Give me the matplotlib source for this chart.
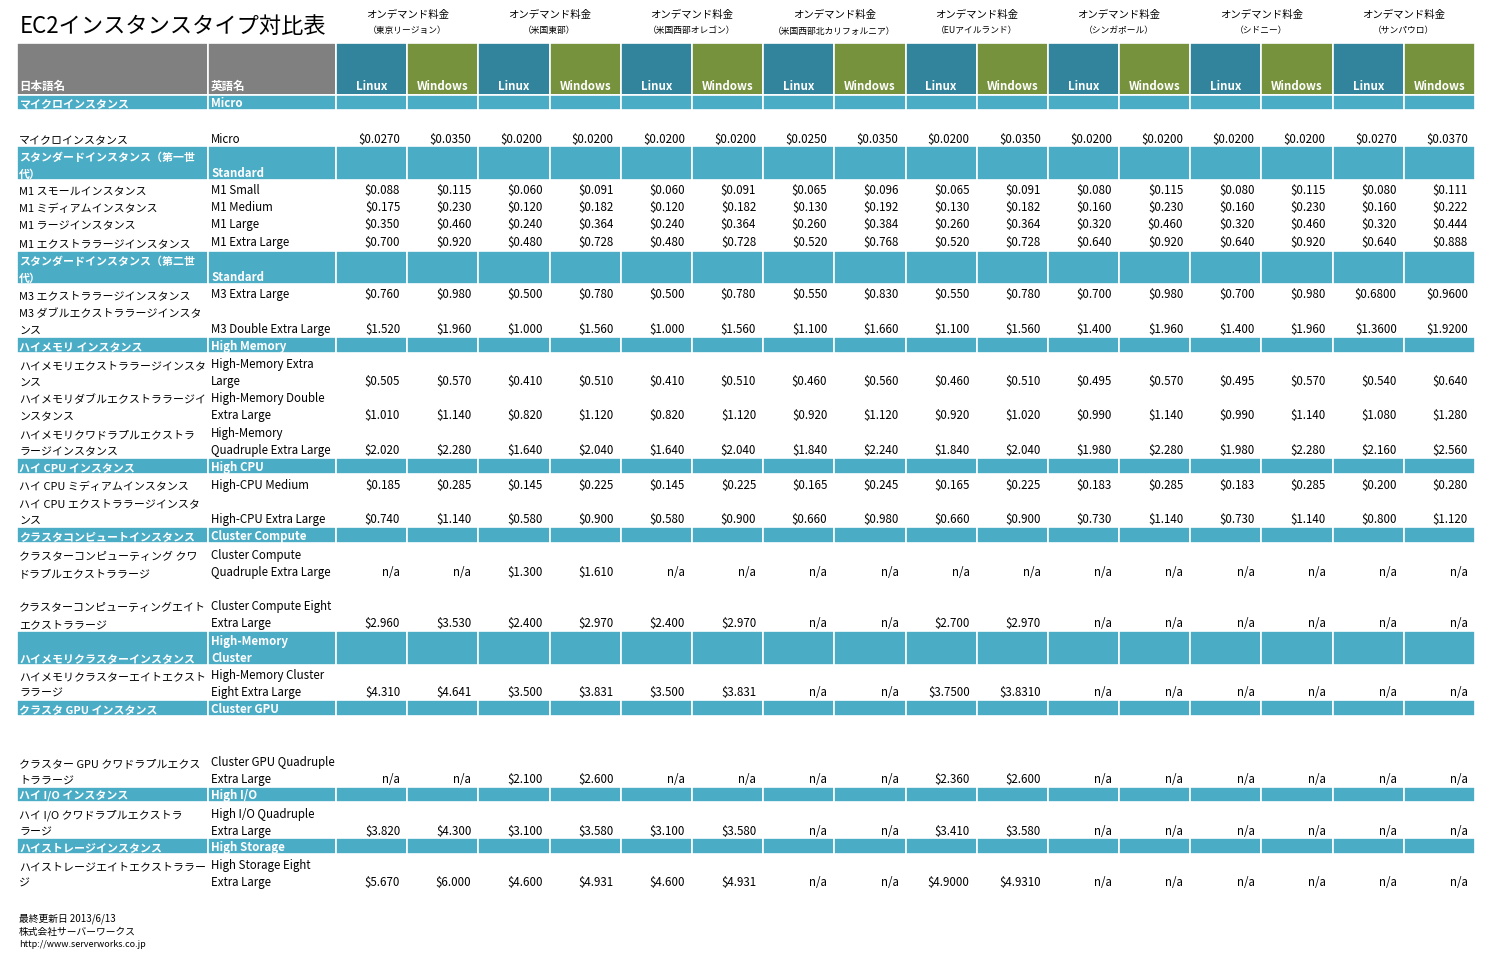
import matplotlib.pyplot as plt
from matplotlib.patches import Rectangle

plt.rcParams['font.family'] = ['Noto Sans CJK JP', 'DejaVu Sans']

regions = ["（東京リージョン）", "（米国東部）", "（米国西部オレゴン）", "（米国西部北カリフォルニア）",
           "（EUアイルランド）", "（シンガポール）", "（シドニー）", "（サンパウロ）"]

NA = ["n/a"] * 6
# (kind, top, bottom, jp label, en label, prices)
rows = [
    ("sec", 96, 111, "マイクロインスタンス", "Micro", None),
    ("dat", 111, 147, "マイクロインスタンス", "Micro",
     "$0.0270 $0.0350 $0.0200 $0.0200 $0.0200 $0.0200 $0.0250 $0.0350 $0.0200 $0.0350 $0.0200 $0.0200 $0.0200 $0.0200 $0.0270 $0.0370".split()),
    ("sec", 147, 181, "スタンダードインスタンス（第一世\n代）", "Standard", None),
    ("dat", 181, 198, "M1 スモールインスタンス", "M1 Small",
     "$0.088 $0.115 $0.060 $0.091 $0.060 $0.091 $0.065 $0.096 $0.065 $0.091 $0.080 $0.115 $0.080 $0.115 $0.080 $0.111".split()),
    ("dat", 198, 215, "M1 ミディアムインスタンス", "M1 Medium",
     "$0.175 $0.230 $0.120 $0.182 $0.120 $0.182 $0.130 $0.192 $0.130 $0.182 $0.160 $0.230 $0.160 $0.230 $0.160 $0.222".split()),
    ("dat", 215, 232, "M1 ラージインスタンス", "M1 Large",
     "$0.350 $0.460 $0.240 $0.364 $0.240 $0.364 $0.260 $0.384 $0.260 $0.364 $0.320 $0.460 $0.320 $0.460 $0.320 $0.444".split()),
    ("dat", 232, 250, "M1 エクストララージインスタンス", "M1 Extra Large",
     "$0.700 $0.920 $0.480 $0.728 $0.480 $0.728 $0.520 $0.768 $0.520 $0.728 $0.640 $0.920 $0.640 $0.920 $0.640 $0.888".split()),
    ("sec", 252, 285, "スタンダードインスタンス（第二世\n代）", "Standard", None),
    ("dat", 285, 302, "M3 エクストララージインスタンス", "M3 Extra Large",
     "$0.760 $0.980 $0.500 $0.780 $0.500 $0.780 $0.550 $0.830 $0.550 $0.780 $0.700 $0.980 $0.700 $0.980 $0.6800 $0.9600".split()),
    ("dat", 302, 337, "M3 ダブルエクストララージインスタ\nンス", "M3 Double Extra Large",
     "$1.520 $1.960 $1.000 $1.560 $1.000 $1.560 $1.100 $1.660 $1.100 $1.560 $1.400 $1.960 $1.400 $1.960 $1.3600 $1.9200".split()),
    ("sec", 338, 354, "ハイメモリ インスタンス", "High Memory", None),
    ("dat", 354, 389, "ハイメモリエクストララージインスタ\nンス", "High-Memory Extra\nLarge",
     "$0.505 $0.570 $0.410 $0.510 $0.410 $0.510 $0.460 $0.560 $0.460 $0.510 $0.495 $0.570 $0.495 $0.570 $0.540 $0.640".split()),
    ("dat", 389, 423, "ハイメモリダブルエクストララージイ\nンスタンス", "High-Memory Double\nExtra Large",
     "$1.010 $1.140 $0.820 $1.120 $0.820 $1.120 $0.920 $1.120 $0.920 $1.020 $0.990 $1.140 $0.990 $1.140 $1.080 $1.280".split()),
    ("dat", 423, 458, "ハイメモリクワドラプルエクストラ\nラージインスタンス", "High-Memory\nQuadruple Extra Large",
     "$2.020 $2.280 $1.640 $2.040 $1.640 $2.040 $1.840 $2.240 $1.840 $2.040 $1.980 $2.280 $1.980 $2.280 $2.160 $2.560".split()),
    ("sec", 459, 475, "ハイ CPU インスタンス", "High CPU", None),
    ("dat", 475, 493, "ハイ CPU ミディアムインスタンス", "High-CPU Medium",
     "$0.185 $0.285 $0.145 $0.225 $0.145 $0.225 $0.165 $0.245 $0.165 $0.225 $0.183 $0.285 $0.183 $0.285 $0.200 $0.280".split()),
    ("dat", 493, 527, "ハイ CPU エクストララージインスタ\nンス", "High-CPU Extra Large",
     "$0.740 $1.140 $0.580 $0.900 $0.580 $0.900 $0.660 $0.980 $0.660 $0.900 $0.730 $1.140 $0.730 $1.140 $0.800 $1.120".split()),
    ("sec", 528, 544, "クラスタコンピュートインスタンス", "Cluster Compute", None),
    ("dat", 544, 580, "クラスターコンピューティング クワ\nドラプルエクストララージ", "Cluster Compute\nQuadruple Extra Large",
     ["n/a", "n/a", "$1.300", "$1.610"] + ["n/a"] * 12),
    ("dat", 580, 631, "クラスターコンピューティングエイト\nエクストララージ", "Cluster Compute Eight\nExtra Large",
     "$2.960 $3.530 $2.400 $2.970 $2.400 $2.970 n/a n/a $2.700 $2.970".split() + NA),
    ("sec", 632, 666, "ハイメモリクラスターインスタンス", "High-Memory\nCluster", None),
    ("dat", 666, 700, "ハイメモリクラスターエイトエクスト\nララージ", "High-Memory Cluster\nEight Extra Large",
     "$4.310 $4.641 $3.500 $3.831 $3.500 $3.831 n/a n/a $3.7500 $3.8310".split() + NA),
    ("sec", 701, 717, "クラスタ GPU インスタンス", "Cluster GPU", None),
    ("dat", 717, 787, "クラスター GPU クワドラプルエクス\nトララージ", "Cluster GPU Quadruple\nExtra Large",
     "n/a n/a $2.100 $2.600 n/a n/a n/a n/a $2.360 $2.600".split() + NA),
    ("sec", 788, 803, "ハイ I/O インスタンス", "High I/O", None),
    ("dat", 803, 839, "ハイ I/O クワドラプルエクストラ\nラージ", "High I/O Quadruple\nExtra Large",
     "$3.820 $4.300 $3.100 $3.580 $3.100 $3.580 n/a n/a $3.410 $3.580".split() + NA),
    ("sec", 839, 855, "ハイストレージインスタンス", "High Storage", None),
    ("dat", 855, 890, "ハイストレージエイトエクストララー\nジ", "High Storage Eight\nExtra Large",
     "$5.670 $6.000 $4.600 $4.931 $4.600 $4.931 n/a n/a $4.9000 $4.9310".split() + NA),
]

GRAY, LINUX, WIN, SEC = "#808080", "#31849b", "#76923c", "#4bacc6"
x_jp, x_en, x0, x1 = 17, 208, 336, 1475
cw = (x1 - x0) / 16
edges = [x0 + i * cw for i in range(17)]
step = 17

fig = plt.figure(figsize=(15, 9.62), dpi=100)
ax = fig.add_axes([0, 0, 1, 1])
ax.set_xlim(0, 1500)
ax.set_ylim(962, 0)
ax.axis("off")

fs = 8.3
fs_jp = 7.9
ax.text(20, 26, "EC2インスタンスタイプ対比表", fontsize=16, va="center")

# header
for x, w in [(x_jp, x_en - x_jp), (x_en, x0 - x_en)]:
    ax.add_patch(Rectangle((x, 44), w, 52, fc=GRAY, ec="white", lw=1.2))
ax.text(x_jp + 2, 93, "日本語名", fontsize=fs, color="white", weight="bold", va="bottom")
ax.text(x_en + 3, 93, "英語名", fontsize=fs, color="white", weight="bold", va="bottom")
for i in range(16):
    c = LINUX if i % 2 == 0 else WIN
    ax.add_patch(Rectangle((edges[i], 44), cw, 52, fc=c, ec="white", lw=1.2))
    ax.text(edges[i] + cw / 2, 93, "Linux" if i % 2 == 0 else "Windows",
            fontsize=fs, color="white", weight="bold", ha="center", va="bottom")
for r, name in enumerate(regions):
    cx = edges[2 * r] + cw
    ax.text(cx, 15, "オンデマンド料金", fontsize=7.5, ha="center", va="center")
    ax.text(cx, 31, name, fontsize=6.3, ha="center", va="center")


def put_lines(x, bot, label, size, **kw):
    lines = label.split("\n")
    for k, line in enumerate(reversed(lines)):
        ax.text(x, bot - 1 - k * step, line, fontsize=size, va="bottom", **kw)


for kind, top, bot, jp, en, prices in rows:
    if kind == "sec":
        ax.add_patch(Rectangle((x_jp, top), x_en - x_jp, bot - top, fc=SEC, ec="white", lw=1.2))
        ax.add_patch(Rectangle((x_en, top), x0 - x_en, bot - top, fc=SEC, ec="white", lw=1.2))
        for i in range(16):
            ax.add_patch(Rectangle((edges[i], top), cw, bot - top, fc=SEC, ec="white", lw=1.2))
        kw = dict(color="white", weight="bold")
    else:
        kw = dict(color="black")
    put_lines(x_jp + 2, bot, jp, fs_jp, **kw)
    put_lines(x_en + 3, bot, en, fs, **kw)
    if prices:
        for i, p in enumerate(prices):
            ax.text(edges[i + 1] - 7, bot - 1, p, fontsize=fs, ha="right", va="bottom")

ax.text(19, 919, "最終更新日 2013/6/13", fontsize=7, va="center")
ax.text(19, 932, "株式会社サーバーワークス", fontsize=7, va="center")
ax.text(19, 945, "http://www.serverworks.co.jp", fontsize=6.5, va="center")

fig.savefig("out.png", dpi=100)
